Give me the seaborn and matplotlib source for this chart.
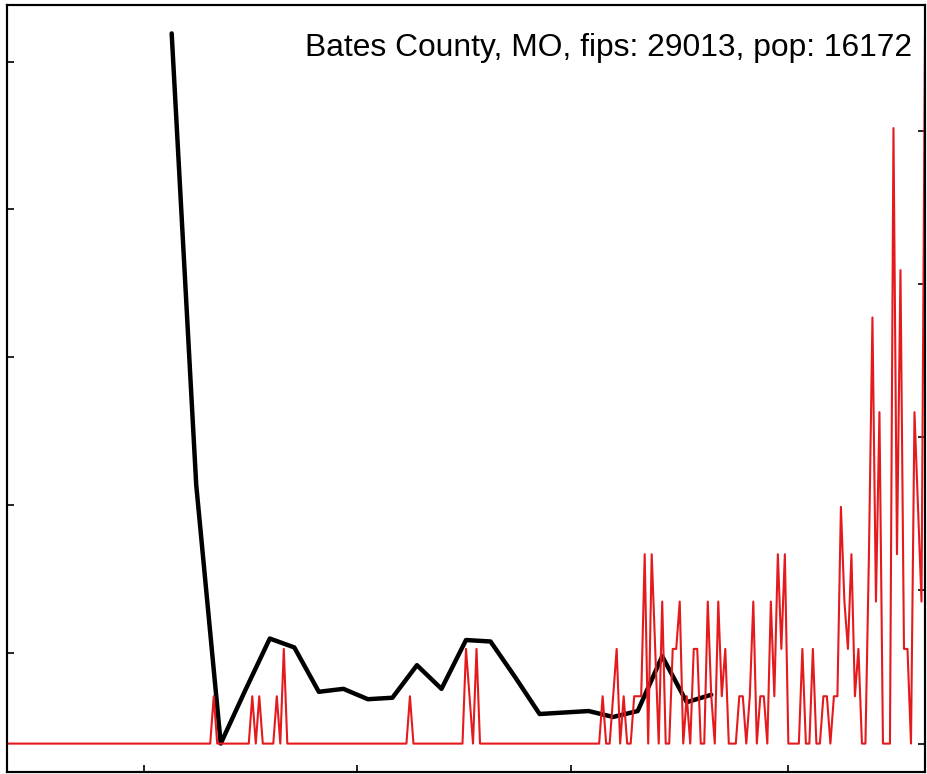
import matplotlib
matplotlib.use("Agg")
import numpy as np
import pandas as pd
import seaborn as sns
import matplotlib.pyplot as plt
import matplotlib.dates as mdates
from matplotlib.ticker import NullFormatter

county = "Bates County, MO"
fips = 29013
pop = 16172

# daily new cases, starting 2020-01-22
start_day = "2020-01-22"
daily_cases = [
    0, 0, 0, 0, 0, 0, 0, 0, 0, 0,
    0, 0, 0, 0, 0, 0, 0, 0, 0, 0,
    0, 0, 0, 0, 0, 0, 0, 0, 0, 0,
    0, 0, 0, 0, 0, 0, 0, 0, 0, 0,
    0, 0, 0, 0, 0, 0, 0, 0, 0, 0,
    0, 0, 0, 0, 0, 0, 0, 0, 0, 1,
    0, 0, 0, 0, 0, 0, 0, 0, 0, 0,
    1, 0, 1, 0, 0, 0, 0, 1, 0, 2,
    0, 0, 0, 0, 0, 0, 0, 0, 0, 0,
    0, 0, 0, 0, 0, 0, 0, 0, 0, 0,
    0, 0, 0, 0, 0, 0, 0, 0, 0, 0,
    0, 0, 0, 0, 0, 1, 0, 0, 0, 0,
    0, 0, 0, 0, 0, 0, 0, 0, 0, 0,
    0, 2, 1, 0, 2, 0, 0, 0, 0, 0,
    0, 0, 0, 0, 0, 0, 0, 0, 0, 0,
    0, 0, 0, 0, 0, 0, 0, 0, 0, 0,
    0, 0, 0, 0, 0, 0, 0, 0, 0, 0,
    1, 0, 0, 1, 2, 0, 1, 0, 0, 1,
    1, 1, 4, 0, 4, 2, 0, 3, 0, 0,
    2, 2, 3, 0, 1, 0, 2, 2, 0, 0,
    3, 1, 0, 3, 1, 2, 0, 0, 0, 1,
    1, 0, 1, 3, 0, 1, 1, 0, 3, 1,
    4, 2, 4, 0, 0, 0, 0, 2, 0, 0,
    2, 0, 0, 1, 1, 0, 1, 1, 5, 3,
    2, 4, 1, 2, 0, 0, 4, 9, 3, 7,
    0, 0, 0, 13, 4, 10, 2, 2, 0, 7,
    5, 3, 15,
]

# weekly series (left axis), starting 2020-03-09
week_start = "2020-03-09"
weekly_vals = [5.19, 2.14, 0.39, 0.75, 1.10, 1.04, 0.74, 0.76, 0.69, 0.70,
               0.92, 0.76, 1.09, 1.08, 0.84, 0.59, 0.60, 0.61, 0.57, 0.61,
               0.98, 0.67, 0.72]

left_ticks = [1, 2, 3, 4, 5]
right_ticks = [0, 20, 40, 60, 80]
tick_months = [3, 5, 7, 9]

daily = pd.DataFrame({
    "date": pd.date_range(start_day, periods=len(daily_cases), freq="D"),
    "cases": daily_cases,
})
daily["per100k"] = daily["cases"] / pop * 1e5
weekly = pd.DataFrame({
    "date": pd.date_range(week_start, periods=len(weekly_vals), freq="7D"),
    "val": weekly_vals,
})

sns.set_theme(style="ticks")
plt.rcParams["font.family"] = ["Liberation Sans", "DejaVu Sans"]
plt.rcParams["xtick.direction"] = "in"
plt.rcParams["ytick.direction"] = "in"


def padded(lo, hi, m=0.04):
    d = (hi - lo) * m
    return lo - d, hi + d


fig = plt.figure(figsize=(9.28, 7.74), dpi=100)
ax = fig.add_axes([7 / 928, 2 / 774, 918 / 928, 767 / 774])

sns.lineplot(data=weekly, x="date", y="val", color="black", lw=3.2, ax=ax)
ax2 = ax.twinx()
sns.lineplot(data=daily, x="date", y="per100k", color="#e41a1c", lw=1.5, ax=ax2)

ax.set_xlim(daily["date"].min(), daily["date"].max())
ax.set_ylim(*padded(min(weekly_vals), max(weekly_vals)))
ax2.set_ylim(*padded(0, daily["per100k"].max()))

ax.xaxis.set_major_locator(mdates.MonthLocator(bymonth=tick_months))
ax.xaxis.set_major_formatter(NullFormatter())
ax.set_yticks(left_ticks)
ax.yaxis.set_major_formatter(NullFormatter())
ax2.set_yticks(right_ticks)
ax2.yaxis.set_major_formatter(NullFormatter())
for a in (ax, ax2):
    a.set_xlabel("")
    a.set_ylabel("")
    a.tick_params(length=5, width=1.2, color="black")
    for s in a.spines.values():
        s.set_color("black")
        s.set_linewidth(1.5)

ax2.text(0.9858, 0.9335, f"{county}, fips: {fips}, pop: {pop}",
         ha="right", va="baseline", fontsize=22.9, color="black",
         transform=ax.transAxes)

fig.savefig("out.png", dpi=100)
